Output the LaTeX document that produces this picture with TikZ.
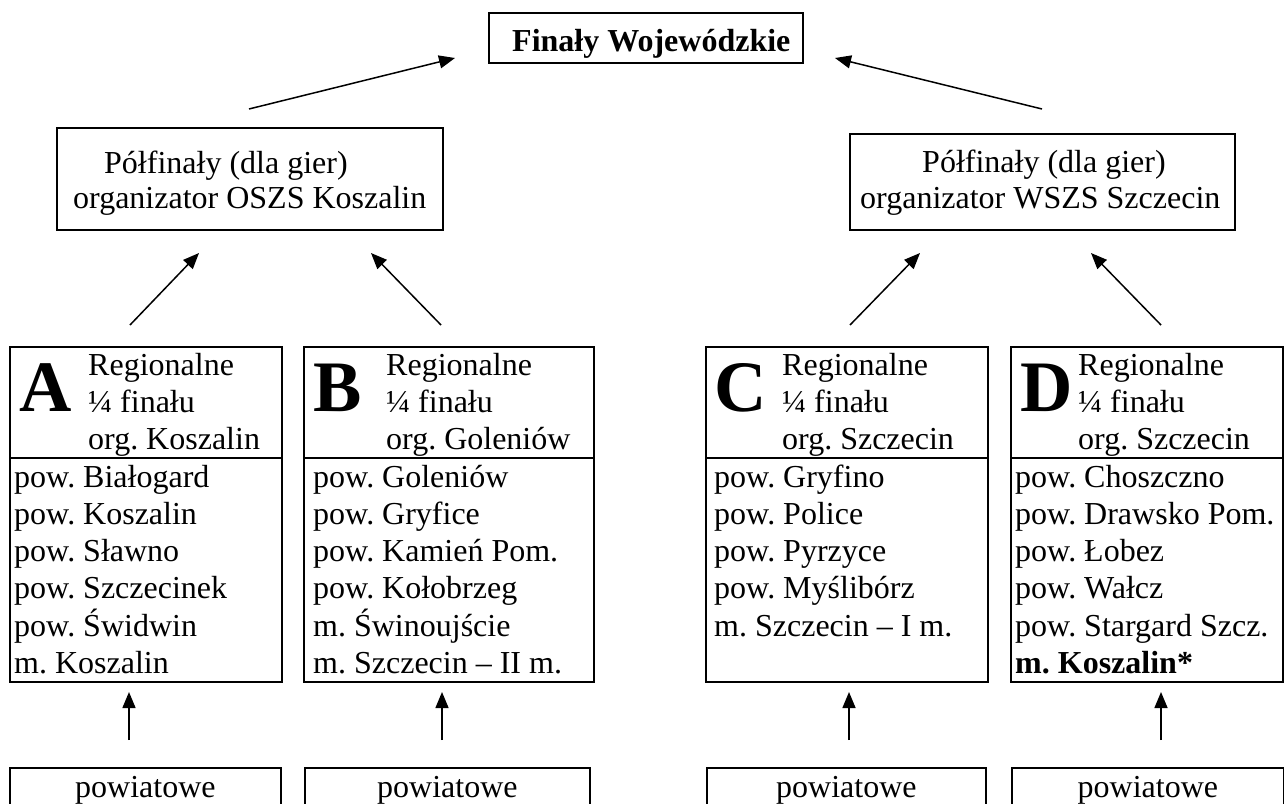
\documentclass[tikz,border=0pt]{standalone}
\usepackage{fontspec}
\setmainfont{Liberation Serif}
\usetikzlibrary{arrows.meta}
\frenchspacing
\begin{document}
\begin{tikzpicture}[x=1pt,y=-1pt,
  box/.style={draw, line width=1.8pt, inner sep=0pt, anchor=north west},
  txt/.style={anchor=base west, inner sep=0pt, font=\fontsize{32pt}{37pt}\selectfont},
  ctxt/.style={anchor=base, inner sep=0pt, font=\fontsize{32pt}{37pt}\selectfont},
  big/.style={anchor=base west, inner sep=0pt, font=\fontsize{72.5pt}{80pt}\selectfont\bfseries},
  arr/.style={line width=1.5pt, -{Triangle[length=16pt,width=13pt]}},
]
\useasboundingbox (0,0) rectangle (1284,803);
\clip (0,0) rectangle (1284,803);

% top
\node[box, minimum width=314pt, minimum height=50pt] (fin) at (488,12) {};
\node[txt, font=\fontsize{32pt}{37pt}\selectfont\bfseries] (fint) at (512,51) {Finały Wojewódzkie};

% semifinals
\node[box, minimum width=386pt, minimum height=102pt] (sL) at (56,127) {};
\node[txt] (sL1) at (104,173) {Półfinały (dla gier)};
\node[txt] (sL2) at (73,208) {organizator OSZS Koszalin};
\node[box, minimum width=385pt, minimum height=96pt] (sR) at (849,133) {};
\node[txt] (sR1) at (922,172) {Półfinały (dla gier)};
\node[txt] (sR2) at (860,208) {organizator WSZS Szczecin};

% quarter-final boxes
\node[box, minimum width=272pt, minimum height=335pt] (A) at (9,346) {};
\node[box, minimum width=290pt, minimum height=335pt] (B) at (303,346) {};
\node[box, minimum width=282pt, minimum height=335pt] (C) at (705,346) {};
\node[box, minimum width=272pt, minimum height=335pt] (D) at (1010,346) {};
\foreach \n in {A,B,C,D}{
  \draw[line width=1.8pt] ([yshift=-112pt]\n.north west) -- ([yshift=-112pt]\n.north east);
}

% letters
\node[big] (lA) at (19,411) {A};
\node[big] (lB) at (313,411) {B};
\node[big] (lC) at (714,411) {C};
\node[big] (lD) at (1020,411) {D};

% headers
\foreach \n/\x/\o in {A/88/Koszalin, B/386/Goleniów, C/782/Szczecin, D/1078/Szczecin}{
  \node[txt] (h\n1) at (\x,375) {Regionalne};
  \node[txt] (h\n2) at (\x,412) {¼ finału};
  \node[txt] (h\n3) at (\x,449) {org. \o};
}

% lists
\foreach \t [count=\i] in {pow. Białogard, pow. Koszalin, pow. Sławno, pow. Szczecinek, pow. Świdwin, m. Koszalin}{
  \node[txt] (la\i) at (14,{487+37.3*(\i-1)}) {\t};
}
\foreach \t [count=\i] in {pow. Goleniów, pow. Gryfice, pow. Kamień Pom., pow. Kołobrzeg, m. Świnoujście, m. Szczecin – II m.}{
  \node[txt] (lb\i) at (313,{487+37.3*(\i-1)}) {\t};
}
\foreach \t [count=\i] in {pow. Gryfino, pow. Police, pow. Pyrzyce, pow. Myślibórz, m. Szczecin – I m.}{
  \node[txt] (lc\i) at (714,{487+37.3*(\i-1)}) {\t};
}
\foreach \t [count=\i] in {pow. Choszczno, pow. Drawsko Pom., pow. Łobez, pow. Wałcz, pow. Stargard Szcz.}{
  \node[txt] (ld\i) at (1015,{487+37.3*(\i-1)}) {\t};
}
\node[txt, font=\fontsize{32pt}{37pt}\selectfont\bfseries] (ld6) at (1015,673.5) {m. Koszalin*};

% bottom boxes
\node[box, minimum width=271pt, minimum height=100pt] (pA) at (9,767) {};
\node[box, minimum width=285pt, minimum height=100pt] (pB) at (304,767) {};
\node[box, minimum width=279pt, minimum height=100pt] (pC) at (706,767) {};
\node[box, minimum width=272pt, minimum height=100pt] (pD) at (1011,767) {};
\foreach \n in {A,B,C,D}{
  \node[ctxt] (pt\n) at ([yshift=-30pt]p\n.north) {powiatowe};
}

% arrows
\coordinate (t1s) at (249,109); \coordinate (t1e) at (455,58);
\coordinate (t2s) at (1042,109); \coordinate (t2e) at (835,58);
\coordinate (aS) at (130,325); \coordinate (aE) at (199,253);
\coordinate (bS) at (441,325); \coordinate (bE) at (371,253);
\coordinate (cS) at (850,325); \coordinate (cE) at (920,253);
\coordinate (dS) at (1161,325); \coordinate (dE) at (1091,253);
\draw[arr] (t1s) -- (t1e);
\draw[arr] (t2s) -- (t2e);
\draw[arr] (aS) -- (aE);
\draw[arr] (bS) -- (bE);
\draw[arr] (cS) -- (cE);
\draw[arr] (dS) -- (dE);
\foreach \n/\x in {A/129,B/442,C/849,D/1161}{
  \coordinate (v\n s) at (\x,740);
  \coordinate (v\n e) at (\x,692);
  \draw[arr] (v\n s) -- (v\n e);
}
\end{tikzpicture}
\end{document}
